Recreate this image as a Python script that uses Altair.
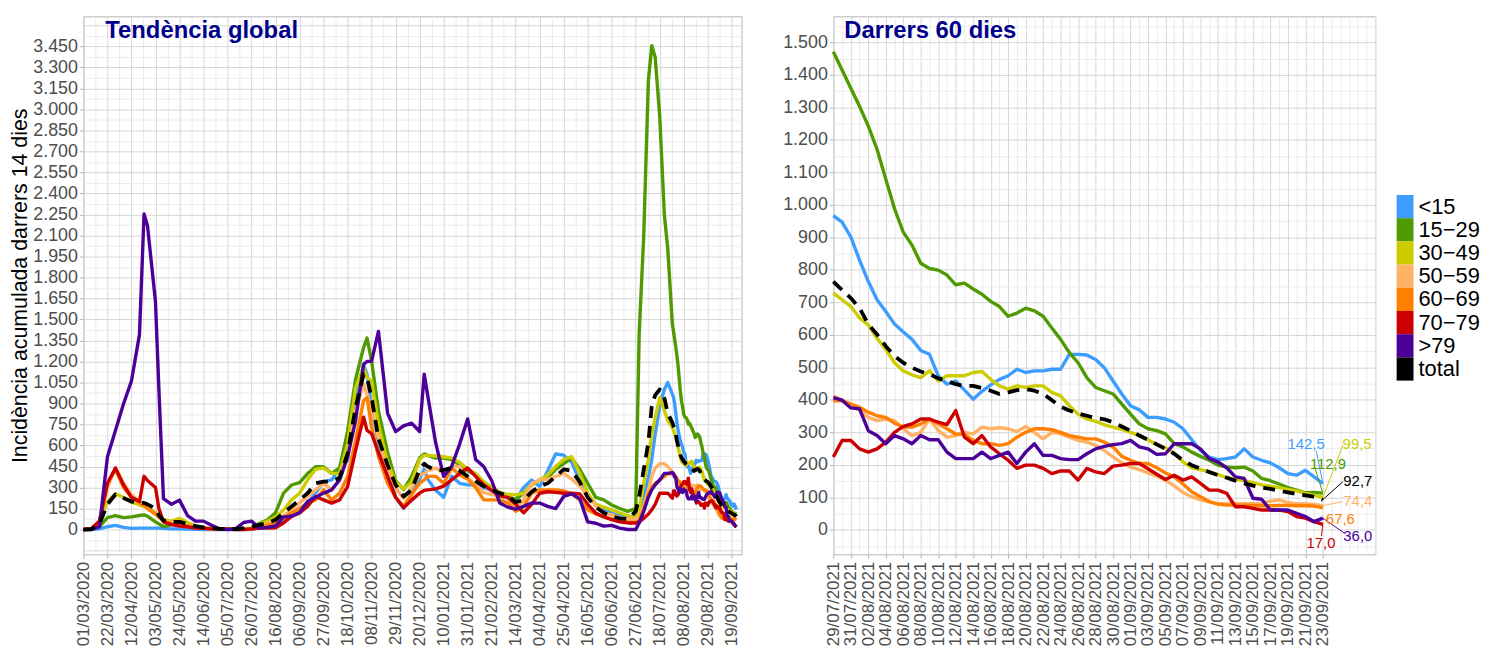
import altair as alt
import pandas as pd

FONT = "Liberation Sans"
SERIES = ["<15", "15\u221229", "30\u221249", "50\u221259", "60\u221269", "70\u221279", ">79", "total"]
COLORS = ["#3D9DFF", "#4E9A00", "#CCCC00", "#FFB266", "#FF8000", "#CC0000", "#4C0099", "#000000"]

# ---------------- left panel: days since 01/03/2020 (until 25/07/2021) ----------------
L_DAYS = [0, 7, 14, 21, 28, 35, 42, 49, 53, 56, 63,
          66, 70, 77, 84, 91, 98, 105, 112, 119, 126,
          133, 140, 147, 154, 161, 168, 175, 182, 189, 196, 203, 210, 217, 224,
          231, 238, 245, 248, 252, 258, 266,
          273, 280, 287, 294, 298, 301, 308, 315, 322, 329, 336, 343, 350, 357, 364, 371, 378, 385, 392, 399,
          406, 413, 420, 427, 434, 441, 448, 455, 462, 469, 476, 483,
          486, 490, 494, 497, 500, 504, 508, 511]

L_U15 = [0, 0, 5, 20, 30, 15, 8, 10, 10, 10, 10,
         10, 8, 5, 5, 3, 2, 0, 0, 0, 0,
         0, 0, 2, 10, 20, 35, 60, 100, 150, 190, 260, 340, 354, 436,
         495, 920, 1179, 1108, 873, 620, 420,
         230, 150, 260, 360, 430, 360, 280, 230, 380, 330, 320, 318, 300, 280, 240, 225, 212, 300, 354, 307,
         420, 540, 531, 480, 350, 240, 180, 150, 115, 100, 94, 94,
         120, 230, 370, 500, 680, 880, 1000, 1050]
L_15_29 = [0, 2, 20, 85, 100, 85, 90, 100, 105, 95, 55,
           40, 20, 35, 75, 30, 15, 8, 5, 5, 5,
           5, 5, 10, 45, 70, 120, 260, 318, 335, 400, 448, 448, 401, 440,
           700, 1073, 1300, 1368, 1203, 849, 550,
           350, 285, 380, 510, 540, 530, 510, 510, 500, 460, 420, 390, 340, 300, 265, 235, 214, 260, 320, 354,
           370, 430, 470, 510, 430, 330, 230, 212, 175, 150, 130, 150,
           1400, 2100, 3200, 3456, 3373, 2948, 2250, 2005]
L_30_49 = [0, 5, 60, 200, 255, 230, 195, 175, 165, 160, 120,
           100, 70, 60, 80, 50, 25, 15, 10, 5, 5,
           5, 5, 8, 40, 60, 90, 140, 212, 259, 354, 430, 440, 401, 401,
           613, 1014, 1156, 1085, 1061, 750, 480,
           340, 290, 340, 500, 530, 530, 525, 520, 510, 480, 430, 400, 340, 300, 265, 250, 248, 259, 320, 354,
           390, 450, 500, 520, 400, 260, 180, 160, 140, 120, 100, 85,
           141, 330, 500, 680, 800, 943, 850, 780]
L_50_59 = [0, 5, 50, 300, 440, 330, 250, 200, 180, 160, 110,
           90, 60, 50, 40, 30, 20, 10, 5, 5, 5,
           2, 2, 5, 15, 40, 70, 100, 141, 190, 236, 283, 330, 283, 354,
           542, 849, 1038, 967, 873, 650, 420,
           300, 220, 300, 390, 400, 420, 440, 400, 450, 450, 370, 320, 265, 250, 240, 230, 150, 212, 330, 354,
           360, 380, 401, 360, 310, 240, 170, 120, 105, 85, 75, 75,
           90, 170, 280, 380, 440, 470, 470, 450]
L_60_69 = [0, 5, 60, 330, 430, 300, 230, 190, 170, 150, 110,
           90, 60, 40, 30, 25, 15, 10, 5, 5, 5,
           2, 2, 5, 15, 30, 47, 80, 118, 150, 189, 212, 283, 212, 259,
           377, 637, 920, 943, 731, 520, 330,
           230, 165, 250, 330, 354, 380, 380, 330, 440, 390, 360, 300, 212, 212, 210, 190, 130, 165, 260, 283,
           283, 283, 275, 255, 212, 141, 110, 94, 75, 65, 55, 50,
           65, 150, 250, 300, 330, 354, 380, 400]
L_70_79 = [0, 5, 60, 330, 440, 320, 230, 200, 380, 350, 300,
           150, 55, 35, 25, 20, 10, 8, 5, 3, 3,
           0, 0, 5, 10, 10, 12, 47, 94, 118, 165, 236, 212, 189, 212,
           307, 566, 802, 708, 684, 550, 380,
           230, 155, 210, 260, 280, 283, 290, 310, 354, 400, 440, 380, 320, 280, 240, 230, 180, 120, 180, 259,
           270, 265, 259, 259, 255, 180, 118, 90, 70, 55, 47, 47,
           55, 80, 110, 141, 180, 259, 259, 260]
L_79 = [0, 0, 20, 520, 707, 896, 1061, 1392, 2253, 2170, 1628,
        1000, 220, 180, 210, 100, 60, 60, 30, 5, 0,
        5, 50, 60, 10, 15, 25, 90, 95, 120, 200, 230, 260, 283, 354,
        519, 778, 1180, 1200, 1203, 1415, 830,
        700, 740, 760, 700, 1110, 960, 620, 380, 450, 610, 790, 500, 450, 350, 190, 160, 145, 165, 189, 189,
        165, 150, 236, 255, 220, 55, 45, 24, 30, 10, 0, 0,
        47, 130, 230, 283, 320, 354, 401, 401]
L_TOTAL = [0, 3, 40, 180, 250, 225, 200, 190, 190, 180, 150,
           100, 65, 55, 55, 40, 25, 15, 10, 5, 5,
           3, 10, 20, 35, 45, 70, 118, 165, 212, 259, 330, 342, 342, 370,
           542, 873, 1108, 1085, 943, 650, 460,
           320, 236, 283, 430, 470, 450, 425, 425, 440, 420, 380, 345, 310, 285, 260, 240, 195, 210, 270, 310,
           330, 380, 430, 420, 340, 230, 160, 120, 95, 80, 75, 130,
           236, 430, 620, 880, 960, 1000, 940, 830]

# ---------------- right panel: daily, 29/07/2021 .. 23/09/2021 ----------------
R_U15 = [967, 947, 901, 830, 764, 708, 672, 633, 609, 586, 552, 540, 474, 448, 458, 430, 402, 426, 446, 463,
         474, 494, 484, 489, 489, 494, 494, 540, 540, 538, 524, 499, 458, 418, 382, 369, 346, 346, 341, 331,
         311, 277, 244, 224, 216, 219, 224, 249, 224, 214, 206, 191, 173, 168, 183, 163, 142.5]
R_15_29 = [1471, 1415, 1359, 1303, 1242, 1171, 1079, 988, 916, 876, 820, 804, 799, 784, 754, 759, 741, 725, 703, 687,
           657, 667, 682, 674, 657, 621, 586, 545, 514, 468, 438, 428, 418, 387, 356, 326, 311, 305, 295, 265,
           255, 239, 226, 214, 199, 193, 191, 193, 181, 158, 151, 141, 130, 122, 114, 115, 112.9]
R_30_49 = [728, 708, 687, 652, 630, 589, 555, 514, 489, 477, 468, 489, 458, 474, 474, 474, 484, 487, 463, 443,
           433, 443, 438, 443, 443, 423, 412, 382, 356, 341, 334, 323, 316, 309, 300, 290, 277, 262, 252, 236,
           209, 191, 185, 178, 170, 161, 155, 151, 145, 138, 134, 130, 124, 120, 112, 107, 99.5]
R_50_59 = [412, 399, 387, 367, 346, 336, 341, 336, 311, 290, 300, 341, 306, 285, 290, 300, 295, 316, 311, 314,
           311, 302, 318, 300, 280, 300, 295, 285, 275, 270, 260, 244, 224, 206, 193, 185, 175, 165, 153, 135,
           115, 102, 92, 86, 80, 80, 80, 80, 80, 82, 88, 92, 84, 80, 80, 78, 74.4]
R_60_69 = [397, 397, 387, 377, 362, 351, 346, 328, 316, 316, 326, 341, 326, 311, 295, 293, 275, 265, 265, 260,
           265, 285, 300, 311, 311, 308, 300, 290, 285, 280, 280, 270, 255, 226, 214, 204, 204, 191, 175, 163,
           141, 117, 102, 87, 79, 76, 76, 76, 75, 74, 74, 75, 75, 74, 74, 73, 67.6]
R_70_79 = [224, 275, 275, 249, 239, 249, 270, 300, 318, 326, 341, 341, 331, 324, 367, 285, 265, 290, 255, 234,
           214, 189, 199, 199, 189, 173, 181, 181, 153, 189, 178, 173, 196, 199, 204, 204, 188, 171, 155, 168,
           153, 163, 143, 122, 122, 112, 71, 71, 66, 61, 61, 61, 56, 41, 36, 25, 17.0]
R_79 = [407, 399, 375, 372, 305, 290, 265, 290, 280, 265, 290, 277, 277, 239, 219, 219, 219, 239, 219, 229,
        239, 204, 239, 265, 229, 229, 219, 216, 216, 234, 249, 257, 262, 265, 275, 255, 249, 232, 234, 265,
        265, 265, 249, 219, 209, 191, 163, 158, 97, 94, 61, 61, 61, 51, 41, 25, 36.0]
R_TOTAL = [764, 738, 713, 682, 633, 601, 565, 535, 514, 499, 487, 479, 466, 458, 448, 443, 443, 436, 428, 418,
           423, 430, 433, 428, 418, 399, 379, 367, 358, 351, 344, 340, 331, 318, 305, 290, 277, 263, 249, 234,
           214, 199, 188, 178, 168, 160, 151, 143, 136, 130, 126, 120, 115, 110, 106, 102, 92.7]

LEFT_TICKS = ["01/03/2020", "22/03/2020", "12/04/2020", "03/05/2020", "24/05/2020", "14/06/2020", "05/07/2020",
              "26/07/2020", "16/08/2020", "06/09/2020", "27/09/2020", "18/10/2020", "08/11/2020", "29/11/2020",
              "20/12/2020", "10/01/2021", "31/01/2021", "21/02/2021", "14/03/2021", "04/04/2021", "25/04/2021",
              "16/05/2021", "06/06/2021", "27/06/2021", "18/07/2021", "08/08/2021", "29/08/2021", "19/09/2021"]
RIGHT_TICKS = ["29/07/2021", "31/07/2021", "02/08/2021", "04/08/2021", "06/08/2021", "08/08/2021", "10/08/2021",
               "12/08/2021", "14/08/2021", "16/08/2021", "18/08/2021", "20/08/2021", "22/08/2021", "24/08/2021",
               "26/08/2021", "28/08/2021", "30/08/2021", "01/09/2021", "03/09/2021", "05/09/2021", "07/09/2021",
               "09/09/2021", "11/09/2021", "13/09/2021", "15/09/2021", "17/09/2021", "19/09/2021", "21/09/2021",
               "23/09/2021"]
LEFT_Y_MAX_LABEL = 3450
RIGHT_Y_MAX_LABEL = 1500

# annotation layout for the end labels of the right panel (days after 29/07, value units)
LABEL_DX = [54.1, 56.6, 59.9, 60.0, 58.0, 55.8, 60.0, 60.0]
LABEL_Y = [263.5, 202, 263.5, 89.5, 34.5, -41.8, -20.4, 150.5]
LEADER_DX = [55.26, 55.08, 58.3, 58.3, None, 55.83, 58.5, 58.3]
LEADER_Y = [243, 192, 260, 87, None, -19.5, -11, 148]

L_VALUES = [L_U15, L_15_29, L_30_49, L_50_59, L_60_69, L_70_79, L_79, L_TOTAL]
R_VALUES = [R_U15, R_15_29, R_30_49, R_50_59, R_60_69, R_70_79, R_79, R_TOTAL]
for arr in L_VALUES:
    assert len(arr) == len(L_DAYS), len(arr)
for arr in R_VALUES:
    assert len(arr) == 57, len(arr)

L_START = pd.Timestamp("2020-03-01")
R_START = pd.Timestamp("2021-07-29")

left_rows, right_rows = [], []
for name, lv, rv in zip(SERIES, L_VALUES, R_VALUES):
    for d, v in zip(L_DAYS, lv):
        left_rows.append({"date": L_START + pd.Timedelta(days=d), "series": name, "value": v})
    for i, v in enumerate(rv):
        t = R_START + pd.Timedelta(days=i)
        left_rows.append({"date": t, "series": name, "value": v})
        right_rows.append({"date": t, "series": name, "value": v})
left_df = pd.DataFrame(left_rows)
right_df = pd.DataFrame(right_rows)

lab_rows, lead_rows = [], []
for name, rv, dx, ly, ldx, lly in zip(SERIES, R_VALUES, LABEL_DX, LABEL_Y, LEADER_DX, LEADER_Y):
    end_t = R_START + pd.Timedelta(days=56)
    lab_rows.append({"date": R_START + pd.Timedelta(hours=round(dx * 24)), "value": ly, "series": name,
                     "txt": f"{rv[-1]:.1f}".replace(".", ",")})
    if ldx is not None:
        lead_rows.append({"date": end_t, "value": rv[-1], "series": name,
                          "date2": R_START + pd.Timedelta(hours=round(ldx * 24)), "value2": lly})
lab_df = pd.DataFrame(lab_rows)
lead_df = pd.DataFrame(lead_rows)


def dt(ts, hours=0):
    return alt.DateTime(year=int(ts.year), month=int(ts.month), date=int(ts.day), hours=hours)


def js_list(items):
    return "[" + ",".join(f"'{s}'" for s in items) + "]"


GRID_MAJOR = "#d6d6d6"
GRID_MINOR = "#ebebeb"
TICK_COL = "#b3b3b3"
LABEL_COL = "#4d4d4d"

color_scale = alt.Scale(domain=SERIES, range=COLORS)

# ---- left axes ----
l_major = [pd.to_datetime(s, format="%d/%m/%Y") for s in LEFT_TICKS]
l_end = L_START + pd.Timedelta(days=575.5)
l_vals = [dt(t) for t in l_major]
for t in l_major:
    m = t + pd.Timedelta(days=10)
    if m + pd.Timedelta(hours=12) < l_end:
        l_vals.append(dt(m, 12))
l_test = f"indexof({js_list(LEFT_TICKS)}, timeFormat(datum.value, '%d/%m/%Y')) >= 0"

LX = alt.X("date:T", title=None,
           scale=alt.Scale(domain=[dt(L_START), dt(pd.Timestamp("2021-09-27"), 12)]),
           axis=alt.Axis(values=l_vals, labelExpr=f"{l_test} ? timeFormat(datum.value, '%d/%m/%Y') : ''",
                         labelAngle=-90, labelFontSize=17, labelColor=LABEL_COL, labelFont=FONT,
                         labelOverlap=False, labelFlush=False, labelPadding=3, tickSize=4,
                         gridColor={"condition": {"test": l_test, "value": GRID_MAJOR}, "value": GRID_MINOR},
                         tickColor={"condition": {"test": l_test, "value": TICK_COL}, "value": "transparent"},
                         domain=False))
ly_test = f"datum.value >= 0 && datum.value <= {LEFT_Y_MAX_LABEL} && datum.value % 150 == 0"
LY = alt.Y("value:Q", title="Incidència acumulada darrers 14 dies",
           scale=alt.Scale(domain=[-177, 3665], nice=False, zero=False),
           axis=alt.Axis(values=list(range(-150, 3601, 75)),
                         labelExpr=f"{ly_test} ? replace(format(datum.value, ','), ',', '.') : ''",
                         labelFontSize=18, labelColor=LABEL_COL, labelFont=FONT, labelPadding=2, tickSize=4,
                         labelOverlap=False, labelFlush=False,
                         gridColor={"condition": {"test": "datum.value % 150 == 0", "value": GRID_MAJOR},
                                    "value": GRID_MINOR},
                         tickColor={"condition": {"test": ly_test, "value": TICK_COL}, "value": "transparent"},
                         titleFontSize=21.5, titleFont=FONT, titleFontWeight="normal", titleColor="black",
                         titlePadding=1.5, domain=False))

# ---- right axes ----
r_vals = [dt(R_START + pd.Timedelta(days=i)) for i in range(0, 63)]
r_test = f"indexof({js_list(RIGHT_TICKS)}, timeFormat(datum.value, '%d/%m/%Y')) >= 0"
RX = alt.X("date:T", title=None,
           scale=alt.Scale(domain=[dt(R_START), dt(R_START + pd.Timedelta(days=62))]),
           axis=alt.Axis(values=r_vals, labelExpr=f"{r_test} ? timeFormat(datum.value, '%d/%m/%Y') : ''",
                         labelAngle=-90, labelFontSize=17, labelColor=LABEL_COL, labelFont=FONT,
                         labelOverlap=False, labelFlush=False, labelPadding=3, tickSize=4,
                         gridColor={"condition": {"test": r_test, "value": GRID_MAJOR}, "value": GRID_MINOR},
                         tickColor={"condition": {"test": r_test, "value": TICK_COL}, "value": "transparent"},
                         domain=False))
ry_test = f"datum.value >= 0 && datum.value <= {RIGHT_Y_MAX_LABEL} && datum.value % 100 == 0"
RY = alt.Y("value:Q", title=None,
           scale=alt.Scale(domain=[-75.4, 1580], nice=False, zero=False),
           axis=alt.Axis(values=list(range(-50, 1551, 50)),
                         labelExpr=f"{ry_test} ? replace(format(datum.value, ','), ',', '.') : ''",
                         labelFontSize=18, labelColor=LABEL_COL, labelFont=FONT, labelPadding=2, tickSize=4,
                         labelOverlap=False, labelFlush=False,
                         gridColor={"condition": {"test": "datum.value % 100 == 0", "value": GRID_MAJOR},
                                    "value": GRID_MINOR},
                         tickColor={"condition": {"test": ry_test, "value": TICK_COL}, "value": "transparent"},
                         domain=False))


def line_layers(df, X, Y):
    layers = []
    for name, col in zip(SERIES, COLORS):
        base = alt.Chart(df).transform_filter(alt.FieldEqualPredicate(field="series", equal=name))
        if name == "total":
            mk = base.mark_line(color=col, strokeWidth=3.8, strokeDash=[12, 8], strokeJoin="round")
        else:
            mk = base.mark_line(color=col, strokeWidth=3.4, strokeJoin="round")
        layers.append(mk.encode(x=X, y=Y))
    return layers


def panel_title(text, xpix):
    return alt.Chart(pd.DataFrame({"t": [text]})).mark_text(
        font=FONT, fontSize=24, fontWeight="bold", color="#00008B", align="left", baseline="alphabetic"
    ).encode(x=alt.value(xpix), y=alt.value(22), text="t:N")


left = alt.layer(*line_layers(left_df, LX, LY), panel_title("Tendència global", 22)).properties(
    width=663, height=542)

leaders = alt.Chart(lead_df).mark_rule(strokeWidth=1).encode(
    x=RX, y=RY, x2="date2:T", y2="value2:Q", color=alt.Color("series:N", scale=color_scale, legend=None))
labels = alt.Chart(lab_df).mark_text(font=FONT, fontSize=15, align="center", baseline="middle").encode(
    x=RX, y=RY, text="txt:N", color=alt.Color("series:N", scale=color_scale, legend=None))

right = alt.layer(*line_layers(right_df, RX, RY), leaders, labels, panel_title("Darrers 60 dies", 11)).properties(
    width=546, height=542)

leg_df = pd.DataFrame({"series": SERIES})
leg_y = alt.Y("series:N", sort=SERIES, axis=None,
              scale=alt.Scale(domain=SERIES, range=[180, 367], paddingInner=0, paddingOuter=0))
leg_rects = alt.Chart(leg_df).mark_rect().encode(
    y=leg_y, x=alt.value(0), x2=alt.value(17), color=alt.Color("series:N", scale=color_scale, legend=None))
leg_text = alt.Chart(leg_df).mark_text(font=FONT, fontSize=22, align="left", baseline="middle", color="black").encode(
    y=leg_y, x=alt.value(22), text="series:N")
legend = alt.layer(leg_rects, leg_text).properties(width=60, height=542,
                                                   view=alt.ViewBackground(stroke="transparent"))

chart = alt.hconcat(alt.hconcat(left, right, spacing=39.5), legend, spacing=12).properties(
    padding={"left": 0, "top": 5, "right": 0, "bottom": 0}
).configure(font=FONT).configure_view(stroke="#b3b3b3", strokeWidth=1)

chart.save("out.html", embed_options={"renderer": "svg", "actions": False})
